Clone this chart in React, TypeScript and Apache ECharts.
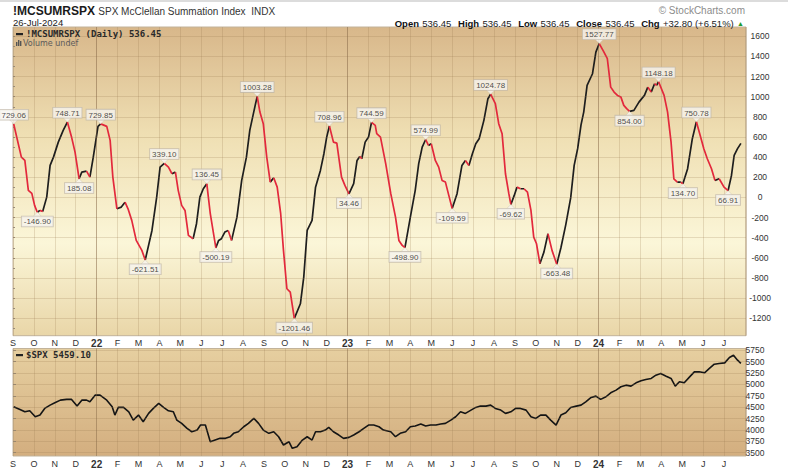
import React, { useEffect, useRef } from 'react';
import * as echarts from 'echarts';

// ---------- data ----------
const mcDates = [
  '2021-09-02','2021-09-13','2021-09-18','2021-09-23','2021-09-28','2021-10-02','2021-10-06','2021-10-10','2021-10-14','2021-10-20',
  '2021-10-25','2021-10-30','2021-11-06','2021-11-13','2021-11-19','2021-11-25','2021-11-30','2021-12-06','2021-12-10','2021-12-17',
  '2021-12-22','2021-12-27','2022-01-03','2022-01-07','2022-01-16','2022-01-21','2022-01-25','2022-01-31','2022-02-06','2022-02-11',
  '2022-02-15','2022-02-20','2022-02-26','2022-03-06','2022-03-11','2022-03-21','2022-03-28','2022-04-02','2022-04-08','2022-04-14',
  '2022-04-19','2022-04-24','2022-04-28','2022-05-03','2022-05-08','2022-05-13','2022-05-20','2022-05-25','2022-05-30','2022-06-04',
  '2022-06-09','2022-06-14','2022-06-22','2022-06-26','2022-06-30','2022-07-05','2022-07-10','2022-07-15','2022-07-23','2022-07-30',
  '2022-08-06','2022-08-11','2022-08-19','2022-08-22','2022-08-26','2022-08-31','2022-09-05','2022-09-10','2022-09-15','2022-09-20',
  '2022-09-25','2022-09-29','2022-10-04','2022-10-09','2022-10-15','2022-10-24','2022-10-29','2022-11-03','2022-11-10','2022-11-15',
  '2022-11-22','2022-11-27','2022-12-01','2022-12-05','2022-12-11','2022-12-16','2022-12-23','2022-12-28','2023-01-03','2023-01-10',
  '2023-01-15','2023-01-19','2023-01-22','2023-01-27','2023-02-01','2023-02-05','2023-02-10','2023-02-12','2023-02-17','2023-02-24',
  '2023-03-03','2023-03-10','2023-03-15','2023-03-20','2023-03-24','2023-04-01','2023-04-08','2023-04-13','2023-04-18','2023-04-23',
  '2023-04-27','2023-05-01','2023-05-07','2023-05-12','2023-05-17','2023-05-22','2023-05-27','2023-06-01','2023-06-08','2023-06-15',
  '2023-06-20','2023-06-25','2023-06-30','2023-07-05','2023-07-10','2023-07-17','2023-07-23','2023-07-27','2023-08-03','2023-08-08',
  '2023-08-13','2023-08-18','2023-08-23','2023-08-26','2023-08-31','2023-09-04','2023-09-09','2023-09-14','2023-09-19','2023-09-24',
  '2023-09-28','2023-10-02','2023-10-07','2023-10-13','2023-10-19','2023-10-25','2023-11-01','2023-11-07','2023-11-14','2023-11-21',
  '2023-11-26','2023-12-01','2023-12-06','2023-12-10','2023-12-15','2023-12-23','2023-12-28','2024-01-02','2024-01-09','2024-01-14',
  '2024-01-19','2024-01-24','2024-01-29','2024-02-03','2024-02-07','2024-02-11','2024-02-15','2024-02-21','2024-02-28','2024-03-07',
  '2024-03-12','2024-03-17','2024-03-22','2024-03-25','2024-03-28','2024-04-05','2024-04-10','2024-04-15','2024-04-19','2024-04-24',
  '2024-04-29','2024-05-02','2024-05-09','2024-05-16','2024-05-22','2024-05-29','2024-06-02','2024-06-07','2024-06-13','2024-06-18',
  '2024-06-24','2024-07-01','2024-07-07','2024-07-12','2024-07-16','2024-07-21','2024-07-26',
];
const mcValues = [
  729.06, 400, 367, 70, 40, -79, -146.9, -129, -140, 3,
  318, 400, 549, 665, 748.71, 599, 450, 185.08, 251, 261,
  202, 400, 705, 729.85, 705, 566, 202, -113, -96, -47,
  -113, -228, -427, -526, -621.51, -328, 3, 301, 339.1, 301,
  235, 251, 70, -79, -129, -377, -410, -261, 3, 86,
  136.45, -162, -500.19, -427, -410, -344, -328, -427, -196, 169,
  400, 665, 914, 1003.28, 847, 732, 400, 152, 196, 102,
  -162, -526, -907, -940, -1201.46, -1056, -791, -328, -228, 102,
  268, 434, 599, 708.96, 549, 539, 202, 119, 34.46, 136,
  367, 407, 384, 549, 599, 744.59, 715, 633, 599, 335,
  37, -196, -427, -477, -498.9, -196, 70, 335, 500, 574.99,
  516, 533, 367, 301, 169, 152, 20, -109.59, 37, 318,
  367, 318, 434, 533, 583, 765, 980, 1024.78, 931, 732,
  633, 235, 37, -69.62, 20, 102, 86, 86, 53, -129,
  -394, -460, -658, -543, -361, -526, -663.48, -500, -270, -5,
  318, 484, 720, 847, 1112, 1228, 1443, 1527.77, 1443, 1377,
  1095, 1046, 1013, 996, 914, 881, 854.0, 864, 946, 1013,
  1095, 1046, 1129, 1112, 1148.18, 1013, 847, 549, 185, 152,
  152, 134.7, 285, 583, 750.78, 583, 484, 384, 285, 169,
  185, 102, 66.91, 218, 417, 484, 536.45,
];

const annDates = [
  '2021-09-02','2021-10-06','2021-11-19','2021-12-06','2022-01-07','2022-03-11','2022-04-08','2022-06-09','2022-06-22','2022-08-22',
  '2022-10-15','2022-12-05','2023-01-03','2023-02-05','2023-03-24','2023-04-23','2023-06-01','2023-07-27','2023-08-26','2023-11-01',
  '2024-01-02','2024-02-15','2024-03-28','2024-05-02','2024-05-22','2024-07-07',
];
const annValues = [
  729.06, -146.9, 748.71, 185.08, 729.85, -621.51, 339.1, 136.45, -500.19, 1003.28,
  -1201.46, 708.96, 34.46, 744.59, -498.9, 574.99, -109.59, 1024.78, -69.62, -663.48,
  1527.77, 854.0, 1148.18, 134.7, 750.78, 66.91,
];
const annSides = [
  'top','bottom','top','bottom','top','bottom','top','top','bottom','top',
  'bottom','top','bottom','top','bottom','top','bottom','top','bottom','bottom',
  'top','bottom','top','bottom','top','bottom',
];

const spxDates = [
  '2021-09-02','2021-09-11','2021-09-18','2021-09-25','2021-10-03','2021-10-10','2021-10-17','2021-10-25','2021-11-01','2021-11-09',
  '2021-11-18','2021-11-25','2021-12-03','2021-12-10','2021-12-17','2021-12-22','2021-12-30','2022-01-06','2022-01-16','2022-01-24',
  '2022-01-28','2022-02-02','2022-02-09','2022-02-16','2022-02-22','2022-03-01','2022-03-08','2022-03-16','2022-03-23','2022-03-31',
  '2022-04-07','2022-04-14','2022-04-21','2022-04-26','2022-05-03','2022-05-11','2022-05-18','2022-05-26','2022-05-31','2022-06-07',
  '2022-06-14','2022-06-21','2022-06-28','2022-07-06','2022-07-13','2022-07-18','2022-07-25','2022-08-02','2022-08-09','2022-08-17',
  '2022-08-24','2022-08-31','2022-09-08','2022-09-15','2022-09-22','2022-09-29','2022-10-07','2022-10-12','2022-10-19','2022-10-27',
  '2022-11-03','2022-11-10','2022-11-15','2022-11-22','2022-11-29','2022-12-04','2022-12-11','2022-12-19','2022-12-26','2023-01-03',
  '2023-01-10','2023-01-18','2023-01-25','2023-02-01','2023-02-08','2023-02-15','2023-02-21','2023-03-03','2023-03-10','2023-03-17',
  '2023-03-25','2023-04-01','2023-04-08','2023-04-16','2023-04-23','2023-04-30','2023-05-08','2023-05-15','2023-05-22','2023-05-30',
  '2023-06-06','2023-06-13','2023-06-20','2023-06-28','2023-07-05','2023-07-12','2023-07-20','2023-07-27','2023-08-03','2023-08-11',
  '2023-08-18','2023-08-26','2023-09-02','2023-09-09','2023-09-17','2023-09-24','2023-10-01','2023-10-08','2023-10-16','2023-10-23',
  '2023-10-31','2023-11-07','2023-11-14','2023-11-21','2023-11-29','2023-12-06','2023-12-13','2023-12-21','2023-12-28','2024-01-04',
  '2024-01-12','2024-01-19','2024-01-27','2024-02-03','2024-02-10','2024-02-17','2024-02-24','2024-03-02','2024-03-09','2024-03-17',
  '2024-03-24','2024-03-31','2024-04-08','2024-04-15','2024-04-21','2024-04-27','2024-05-04','2024-05-12','2024-05-19','2024-05-26',
  '2024-06-03','2024-06-10','2024-06-17','2024-06-24','2024-07-02','2024-07-09','2024-07-15','2024-07-21','2024-07-26',
];
const spxValues = [
  4508, 4450, 4398, 4420, 4289, 4326, 4472, 4545, 4595, 4654,
  4670, 4670, 4523, 4654, 4654, 4617, 4764, 4764, 4654, 4508,
  4326, 4494, 4494, 4398, 4216, 4326, 4179, 4363, 4472, 4582,
  4494, 4420, 4398, 4216, 4144, 4034, 3960, 3997, 4107, 4107,
  3741, 3778, 3815, 3815, 3851, 3925, 3960, 4070, 4144, 4253,
  4144, 3997, 3925, 3960, 3851, 3669, 3741, 3596, 3632, 3778,
  3851, 3778, 3960, 3960, 3997, 4056, 3960, 3888, 3815, 3837,
  3888, 3960, 4034, 4107, 4107, 4070, 3997, 3960, 3851, 3925,
  3960, 4070, 4085, 4129, 4085, 4107, 4107, 4129, 4144, 4216,
  4289, 4398, 4363, 4435, 4494, 4523, 4523, 4545, 4472, 4435,
  4363, 4398, 4472, 4472, 4435, 4289, 4253, 4326, 4326, 4216,
  4107, 4326, 4376, 4494, 4523, 4545, 4617, 4713, 4742, 4670,
  4728, 4815, 4874, 4947, 4983, 4961, 5034, 5078, 5108, 5130,
  5202, 5239, 5180, 5130, 4961, 5056, 5034, 5165, 5275, 5275,
  5253, 5349, 5443, 5458, 5472, 5590, 5640, 5531, 5459.1,
];

const mcYTicks = [-1200, -1000, -800, -600, -400, -200, 0, 200, 400, 600, 800, 1000, 1200, 1400, 1600];
const mcMinorTicks = [-1300, -1200, -1100, -1000, -900, -800, -700, -600, -500, -400, -300, -200, -100, 0, 100, 200, 300, 400, 500, 600, 700, 800, 900, 1000, 1100, 1200, 1300, 1400, 1500, 1600];
const spxYTicks = [3500, 3750, 4000, 4250, 4500, 4750, 5000, 5250, 5500, 5750];
const monthLetters = ['J', 'F', 'M', 'A', 'M', 'J', 'J', 'A', 'S', 'O', 'N', 'D'];
const yearBreaks = ['2022-01-01', '2023-01-01', '2024-01-01'];

// ---------- helpers ----------
function monthPos(d: string): number {
  const [y, m, day] = d.split('-').map(Number);
  const dim = new Date(Date.UTC(y, m, 0)).getUTCDate();
  return (y - 2021) * 12 + (m - 9) + (day - 1) / dim;
}

function splitRuns(pts: number[][]) {
  const up: any[] = [];
  const down: any[] = [];
  let i = 0;
  while (i < pts.length - 1) {
    const rising = pts[i + 1][1] >= pts[i][1];
    let j = i + 1;
    while (j < pts.length - 1 && (pts[j + 1][1] >= pts[j][1]) === rising) j++;
    const target = rising ? up : down;
    for (let k = i; k <= j; k++) target.push(pts[k]);
    target.push([pts[j][0], '-']);
    i = j;
  }
  return { up, down };
}

const X_MIN = 0;
const X_MAX = 35.05;
const FONT = "'Liberation Sans', Arial, sans-serif";
const MONO = "'DejaVu Sans Mono', monospace";

function xLabel(v: number): string {
  const i = Math.round(v);
  if (i < 0 || i > 34) return '';
  const mo = (8 + i) % 12;
  if (mo === 0) {
    const yr = 2021 + Math.floor((8 + i) / 12);
    return '{b|' + String(yr).slice(2) + '}';
  }
  return monthLetters[mo];
}

export default function App() {
  const ref = useRef<HTMLDivElement>(null);
  useEffect(() => {
    if (!ref.current) return;
    const chart = echarts.init(ref.current, null, { renderer: 'svg' });

    const mcPts = mcDates.map((d, i) => [monthPos(d), mcValues[i]]);
    const runs = splitRuns(mcPts);
    const spxPts = spxDates.map((d, i) => [monthPos(d), spxValues[i]]);
    const yearPos = yearBreaks.map(monthPos);

    const gridLineColor = 'rgba(150, 118, 78, 0.22)';
    const xAxisCommon = {
      type: 'value',
      min: X_MIN,
      max: X_MAX,
      interval: 1,
      axisLine: { show: false },
      axisTick: { show: false },
      splitLine: { show: true, lineStyle: { color: gridLineColor, width: 1 } },
      axisLabel: {
        formatter: xLabel,
        fontSize: 9,
        fontFamily: FONT,
        color: '#333',
        margin: 3,
        showMinLabel: true,
        showMaxLabel: true,
        hideOverlap: false,
        rich: { b: { fontSize: 10, fontWeight: 'bold', fontFamily: FONT, color: '#333' } },
      },
    };

    const option: any = {
      animation: false,
      backgroundColor: '#ffffff',
      grid: [
        {
          left: 13, top: 27, width: 733, height: 308.7,
          show: true, borderColor: '#c2b39a', borderWidth: 1,
          backgroundColor: new echarts.graphic.LinearGradient(0, 0, 0, 1, [
            { offset: 0, color: '#d8b78a' },
            { offset: 0.35, color: '#efdfb3' },
            { offset: 0.7, color: '#fbf6d8' },
            { offset: 1, color: '#e9d6a8' },
          ]),
        },
        {
          left: 13, top: 348.5, width: 733, height: 107.5,
          show: true, borderColor: '#c2b39a', borderWidth: 1,
          backgroundColor: new echarts.graphic.LinearGradient(0, 0, 0, 1, [
            { offset: 0, color: '#e6cfa0' },
            { offset: 1, color: '#d3ae7f' },
          ]),
        },
      ],
      xAxis: [
        { ...xAxisCommon, gridIndex: 0 },
        { ...xAxisCommon, gridIndex: 1 },
      ],
      yAxis: [
        {
          type: 'value', gridIndex: 0, position: 'right', min: -1373, max: 1692,
          splitLine: { show: false },
          axisLine: { show: false },
          axisTick: { show: true, customValues: mcMinorTicks, length: 2, lineStyle: { color: '#9a8c78' } },
          axisLabel: {
            customValues: mcYTicks, fontSize: 8.5, fontFamily: FONT, color: '#333',
            align: 'center', margin: 14, formatter: (v: number) => String(v),
          },
        },
        {
          type: 'value', gridIndex: 1, position: 'right', min: 3428, max: 5787,
          splitLine: { show: false },
          axisLine: { show: false },
          axisTick: { show: true, customValues: spxYTicks, length: 3, lineStyle: { color: '#9a8c78' } },
          axisLabel: {
            customValues: spxYTicks, fontSize: 8.5, fontFamily: FONT, color: '#333',
            align: 'center', margin: 9, formatter: (v: number) => String(v),
          },
        },
      ],
      series: [
        {
          type: 'line', xAxisIndex: 0, yAxisIndex: 0, data: [], z: 1, silent: true,
          markLine: {
            silent: true, symbol: 'none', animation: false, label: { show: false },
            lineStyle: { color: gridLineColor, width: 1, type: 'solid' },
            data: [
              ...mcYTicks.map((v) => ({ yAxis: v })),
              ...yearPos.map((v) => ({ xAxis: v, lineStyle: { color: 'rgba(130, 100, 70, 0.4)', width: 1, type: 'solid' } })),
            ],
          },
        },
        {
          type: 'line', xAxisIndex: 1, yAxisIndex: 1, data: [], z: 1, silent: true,
          markLine: {
            silent: true, symbol: 'none', animation: false, label: { show: false },
            lineStyle: { color: gridLineColor, width: 1, type: 'solid' },
            data: [
              ...spxYTicks.map((v) => ({ yAxis: v })),
              ...yearPos.map((v) => ({ xAxis: v, lineStyle: { color: 'rgba(130, 100, 70, 0.35)', width: 1, type: 'solid' } })),
            ],
          },
        },
        {
          name: 'up', type: 'line', xAxisIndex: 0, yAxisIndex: 0, data: runs.up,
          showSymbol: false, connectNulls: false, z: 3,
          lineStyle: { color: '#1e1e1e', width: 1.7 },
        },
        {
          name: 'down', type: 'line', xAxisIndex: 0, yAxisIndex: 0, data: runs.down,
          showSymbol: false, connectNulls: false, z: 3,
          lineStyle: { color: '#e3283c', width: 1.7 },
        },
        {
          name: 'ann', type: 'scatter', xAxisIndex: 0, yAxisIndex: 0, z: 5,
          symbol: 'diamond', symbolSize: [8, 8],
          itemStyle: { color: '#f7f5f0', borderColor: '#c9c1b2', borderWidth: 0.5 },
          data: annDates.map((d, i) => ({
            value: [monthPos(d), annValues[i]],
            symbolOffset: [0, annSides[i] === 'top' ? -4 : 4],
            label: { position: annSides[i] },
          })),
          label: {
            show: true,
            distance: -4,
            formatter: (p: any) => annValues[p.dataIndex].toFixed(2),
            fontSize: 8, fontFamily: FONT, color: '#222',
            backgroundColor: '#f6f4ef', borderColor: '#c0b8aa', borderWidth: 0.8,
            padding: [1, 2, 0, 2], lineHeight: 9,
          },
        },
        {
          name: 'spx', type: 'line', xAxisIndex: 1, yAxisIndex: 1, data: spxPts,
          showSymbol: false, z: 3,
          lineStyle: { color: '#151515', width: 1.6 },
        },
      ],
      graphic: [
        { type: 'rect', z: 100, shape: { x: 0, y: 0, width: 788, height: 2 }, style: { fill: '#dcdcdc' } },
        {
          type: 'text', z: 100, x: 13, y: 11,
          style: {
            text: '{t|!MCSUMRSPX} {s|SPX McClellan Summation Index  INDX}',
            verticalAlign: 'middle',
            rich: {
              t: { fontSize: 12, fontWeight: 'bold', fontFamily: FONT, fill: '#1a1a1a' },
              s: { fontSize: 10, fontFamily: FONT, fill: '#333' },
            },
          },
        },
        { type: 'text', z: 100, x: 13, y: 22, style: { text: '26-Jul-2024', fontSize: 9.5, fontFamily: FONT, fill: '#222', verticalAlign: 'middle' } },
        { type: 'text', z: 100, x: 745, y: 10.5, style: { text: '© StockCharts.com', fontSize: 10, fontFamily: FONT, fill: '#8c8c8c', align: 'right', verticalAlign: 'middle' } },
        {
          type: 'text', z: 100, x: 744, y: 23,
          style: {
            text: '{k|Open} {v|536.45}  {k|High} {v|536.45}  {k|Low} {v|536.45}  {k|Close} {v|536.45}  {k|Chg} {v|+32.80 (+6.51%)} {g|▲}',
            align: 'right', verticalAlign: 'middle',
            rich: {
              k: { fontSize: 9.5, fontWeight: 'bold', fontFamily: FONT, fill: '#111' },
              v: { fontSize: 9.5, fontFamily: FONT, fill: '#222' },
              g: { fontSize: 7, fontFamily: FONT, fill: '#1f9a2e' },
            },
          },
        },
        { type: 'rect', z: 100, shape: { x: 16, y: 33, width: 7, height: 2.2 }, style: { fill: '#222' } },
        { type: 'text', z: 100, x: 26, y: 34, style: { text: '!MCSUMRSPX (Daily) 536.45', fontSize: 9, fontWeight: 'bold', fontFamily: MONO, fill: '#2a2a2a', verticalAlign: 'middle' } },
        { type: 'rect', z: 100, shape: { x: 16, y: 42, width: 1.4, height: 4 }, style: { fill: '#555' } },
        { type: 'rect', z: 100, shape: { x: 18, y: 40, width: 1.4, height: 6 }, style: { fill: '#555' } },
        { type: 'rect', z: 100, shape: { x: 20, y: 41, width: 1.4, height: 5 }, style: { fill: '#555' } },
        { type: 'text', z: 100, x: 23, y: 43.5, style: { text: 'Volume undef', fontSize: 8, fontFamily: "'DejaVu Sans', sans-serif", fill: '#5a5a5a', verticalAlign: 'middle' } },
        { type: 'rect', z: 100, shape: { x: 16, y: 354, width: 7, height: 2.2 }, style: { fill: '#222' } },
        { type: 'text', z: 100, x: 26, y: 355, style: { text: '$SPX 5459.10', fontSize: 9, fontWeight: 'bold', fontFamily: MONO, fill: '#2a2a2a', verticalAlign: 'middle' } },
      ],
    };

    chart.setOption(option);
    return () => chart.dispose();
  }, []);

  return <div ref={ref} style={{ position: 'fixed', left: 0, top: 0, width: 788, height: 471, background: '#fff' }} />;
}
